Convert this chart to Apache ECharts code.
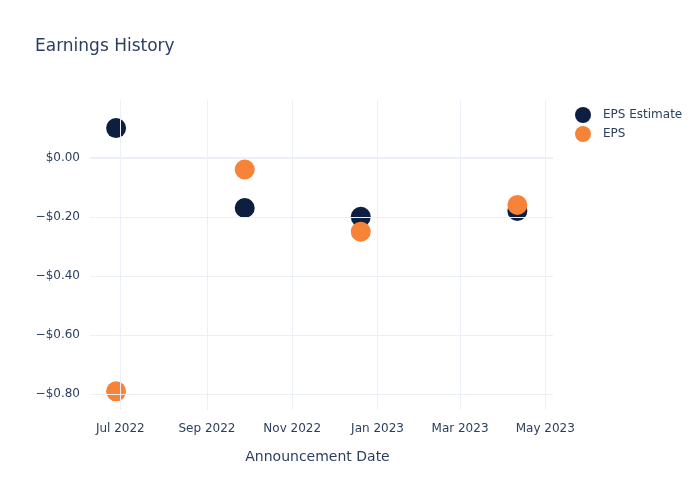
<!DOCTYPE html>
<html>
<head>
<meta charset="utf-8">
<script src="https://cdn.jsdelivr.net/npm/echarts@6/dist/echarts.min.js"></script>
<style>html,body{margin:0;padding:0;background:#fff}#c{width:700px;height:500px}</style>
</head>
<body>
<div id="c"></div>
<script>
var dates = ['2022-06-28', '2022-09-28', '2022-12-20', '2023-04-11'];
var epsEstimate = [0.10, -0.17, -0.20, -0.18];
var eps = [-0.79, -0.04, -0.25, -0.16];
var xTickDates = ['2022-07-01', '2022-09-01', '2022-11-01', '2023-01-01', '2023-03-01', '2023-05-01'];
var yTicks = [0, -0.2, -0.4, -0.6, -0.8];

var FONT = 'DejaVu Sans, Verdana, sans-serif';
var TXT = '#2a3f5f';
var GRID = '#ebf0f8';
function ts(d){ var p = d.split('-'); return Date.UTC(+p[0], +p[1]-1, +p[2]); }
var xTicks = xTickDates.map(ts);
var MONTHS = ['Jan','Feb','Mar','Apr','May','Jun','Jul','Aug','Sep','Oct','Nov','Dec'];

var chart = echarts.init(document.getElementById('c'), null, {renderer: 'canvas'});
chart.setOption({
  animation: false,
  backgroundColor: '#fff',
  title: {
    text: 'Earnings History', left: 30, top: 33,
    textStyle: {fontFamily: FONT, fontSize: 17, fontWeight: 'normal', color: TXT}
  },
  legend: {
    orient: 'vertical', left: 570, top: 102, itemWidth: 16, itemHeight: 16, itemGap: 3,
    icon: 'circle',
    textStyle: {fontFamily: FONT, fontSize: 12, color: TXT, padding: [0, 0, 0, 7]},
    data: ['EPS Estimate', 'EPS']
  },
  grid: {left: 90, right: 147, top: 100, bottom: 90, containLabel: false},
  xAxis: {
    type: 'value',
    min: ts('2022-06-09') + 8*3600e3, max: ts('2023-05-06') + 12*3600e3,
    name: 'Announcement Date', nameLocation: 'middle', nameGap: 40,
    nameTextStyle: {fontFamily: FONT, fontSize: 14, color: TXT, padding: [0, 8, 0, 0]},
    axisLine: {show: false},
    axisTick: {show: false, customValues: xTicks},
    axisLabel: {
      customValues: xTicks,
      fontFamily: FONT, fontSize: 12, color: TXT, margin: 13,
      formatter: function(v){ var d = new Date(v); return MONTHS[d.getUTCMonth()] + ' ' + d.getUTCFullYear(); }
    },
    splitLine: {show: false}
  },
  yAxis: {
    type: 'value', min: -0.853, max: 0.195,
    axisLine: {show: false},
    axisTick: {show: false, customValues: yTicks},
    axisLabel: {
      customValues: yTicks,
      fontFamily: FONT, fontSize: 12, color: TXT, margin: 10,
      formatter: function(v){ var a = Math.abs(v).toFixed(2); return (v < -1e-9 ? '\u2212' : '') + '$' + a; }
    },
    splitLine: {show: false}
  },
  series: [
    {
      name: 'EPS Estimate', type: 'scatter', symbolSize: 20,
      itemStyle: {color: '#0c1f40', opacity: 1},
      data: dates.map(function(d, i){ return [ts(d), epsEstimate[i]]; }),
      markLine: {
        silent: true, symbol: 'none', label: {show: false}, animation: false,
        lineStyle: {color: GRID, width: 1, type: 'solid', opacity: 1},
        data: xTicks.map(function(t){ return {xAxis: t}; })
          .concat(yTicks.filter(function(v){ return v !== 0; }).map(function(v){ return {yAxis: v}; }))
          .concat([{yAxis: 0, lineStyle: {color: GRID, width: 2, type: 'solid'}}])
      },
      z: 2
    },
    {
      name: 'EPS', type: 'scatter', symbolSize: 20,
      itemStyle: {color: '#f68338', opacity: 1},
      data: dates.map(function(d, i){ return [ts(d), eps[i]]; }),
      z: 3
    }
  ]
});
</script>
</body>
</html>
